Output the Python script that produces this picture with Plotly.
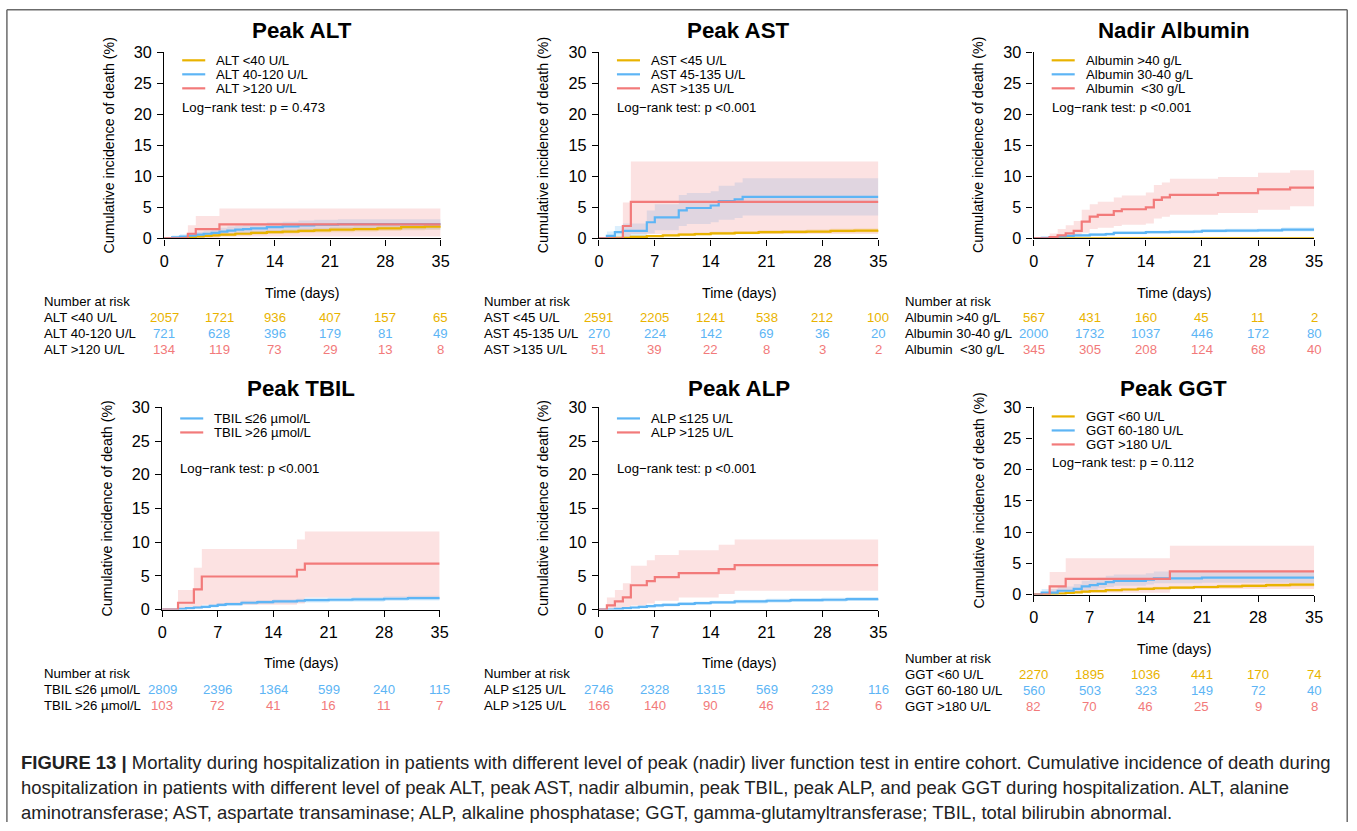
import plotly.graph_objects as go

W, H = 1357, 831
# the photographed page is shown slightly scaled/offset; positions below are in
# reference-image pixels and are mapped back to figure pixels
SX, OX = 0.988, 6.1
SY, OY = 0.978, 8.7
FS = 1.015  # font compensation for that scale

# ---------------- data ----------------
days = [0, 7, 14, 21, 28, 35]
yticks = [0, 5, 10, 15, 20, 25, 30]

titles = ["Peak ALT", "Peak AST", "Nadir Albumin", "Peak TBIL", "Peak ALP", "Peak GGT"]
pvals = ["Log\u2212rank test: p = 0.473", "Log\u2212rank test: p <0.001", "Log\u2212rank test: p <0.001",
         "Log\u2212rank test: p <0.001", "Log\u2212rank test: p <0.001", "Log\u2212rank test: p = 0.112"]

alt_groups = ["ALT <40 U/L", "ALT 40-120 U/L", "ALT >120 U/L"]
ast_groups = ["AST <45 U/L", "AST 45-135 U/L", "AST >135 U/L"]
alb_groups = ["Albumin >40 g/L", "Albumin 30-40 g/L", "Albumin  <30 g/L"]
tbil_groups = ["TBIL \u226426 \u00b5mol/L", "TBIL >26 \u00b5mol/L"]
alp_groups = ["ALP \u2264125 U/L", "ALP >125 U/L"]
ggt_groups = ["GGT <60 U/L", "GGT 60-180 U/L", "GGT >180 U/L"]

alt_risk = [[2057, 1721, 936, 407, 157, 65], [721, 628, 396, 179, 81, 49], [134, 119, 73, 29, 13, 8]]
ast_risk = [[2591, 2205, 1241, 538, 212, 100], [270, 224, 142, 69, 36, 20], [51, 39, 22, 8, 3, 2]]
alb_risk = [[567, 431, 160, 45, 11, 2], [2000, 1732, 1037, 446, 172, 80], [345, 305, 208, 124, 68, 40]]
tbil_risk = [[2809, 2396, 1364, 599, 240, 115], [103, 72, 41, 16, 11, 7]]
alp_risk = [[2746, 2328, 1315, 569, 239, 116], [166, 140, 90, 46, 12, 6]]
ggt_risk = [[2270, 1895, 1036, 441, 170, 74], [560, 503, 323, 149, 72, 40], [82, 70, 46, 25, 9, 8]]

# Peak ALT
alt1_t = [0, 1, 2, 3, 4, 5, 6, 7, 9, 11, 13, 15, 17, 19, 21, 24, 27, 30, 33, 35]
alt1_y = [0, 0.05, 0.1, 0.2, 0.3, 0.4, 0.5, 0.6, 0.75, 0.9, 1.0, 1.1, 1.2, 1.3, 1.4, 1.5, 1.6, 1.8, 1.9, 2.0]
alt1_lo = [0, 0, 0, 0.05, 0.1, 0.2, 0.25, 0.35, 0.45, 0.6, 0.7, 0.8, 0.85, 0.95, 1.0, 1.1, 1.2, 1.3, 1.4, 1.5]
alt1_hi = [0, 0.15, 0.25, 0.4, 0.5, 0.65, 0.75, 0.85, 1.05, 1.2, 1.35, 1.45, 1.55, 1.65, 1.8, 1.9, 2.05, 2.3, 2.4, 2.5]
alt2_t = [0, 1, 2, 3, 4, 5, 6, 7, 8, 9, 10, 11, 13, 15, 17, 19, 22, 35]
alt2_y = [0, 0.15, 0.3, 0.45, 0.6, 0.75, 0.9, 1.1, 1.25, 1.4, 1.5, 1.6, 1.8, 1.95, 2.1, 2.2, 2.3, 2.3]
alt2_lo = [0, 0, 0, 0.05, 0.15, 0.25, 0.35, 0.45, 0.6, 0.7, 0.8, 0.9, 1.05, 1.2, 1.3, 1.4, 1.45, 1.45]
alt2_hi = [0, 0.45, 0.65, 0.85, 1.05, 1.25, 1.45, 1.7, 1.9, 2.05, 2.2, 2.3, 2.55, 2.7, 2.9, 3.0, 3.1, 3.1]
alt3_t = [0, 3, 4, 7, 35]
alt3_y = [0, 0.75, 1.5, 2.25, 2.25]
alt3_lo = [0, 0, 0, 0.3, 0.3]
alt3_hi = [0, 2.1, 3.6, 4.8, 4.8]

# Peak AST
ast1_t = [0, 2, 4, 6, 8, 10, 12, 14, 17, 20, 23, 26, 29, 32, 35]
ast1_y = [0, 0.1, 0.25, 0.35, 0.5, 0.6, 0.7, 0.8, 0.9, 1.0, 1.05, 1.1, 1.2, 1.25, 1.3]
ast1_lo = [0, 0, 0.1, 0.2, 0.3, 0.4, 0.5, 0.55, 0.65, 0.75, 0.8, 0.85, 0.9, 0.95, 1.0]
ast1_hi = [0, 0.25, 0.45, 0.55, 0.7, 0.85, 0.95, 1.05, 1.2, 1.3, 1.35, 1.45, 1.55, 1.6, 1.7]
ast2_t = [0, 1, 2, 3, 6, 7, 10, 11, 14, 15, 17, 18, 35]
ast2_y = [0, 0.4, 1.0, 1.2, 2.6, 3.4, 4.5, 4.9, 5.3, 6.0, 6.3, 6.7, 6.7]
ast2_lo = [0, 0, 0.1, 0.2, 0.8, 1.3, 2.0, 2.3, 2.6, 3.0, 3.3, 3.7, 3.7]
ast2_hi = [0, 1.1, 2.0, 2.4, 4.5, 5.5, 7.0, 7.3, 7.6, 8.5, 9.0, 9.7, 9.7]
ast3_t = [0, 3, 4, 35]
ast3_y = [0, 2.0, 5.9, 5.9]
ast3_lo = [0, 0, 0.7, 0.7]
ast3_hi = [0, 5.8, 12.4, 12.4]

# Nadir Albumin
alb1_t = [0, 35]
alb1_y = [0, 0]
alb1_lo = [0, 0]
alb1_hi = [0, 0.05]
alb2_t = [0, 1, 2, 3, 4, 5, 7, 9, 10, 14, 17, 20, 21, 24, 28, 31, 35]
alb2_y = [0, 0.1, 0.2, 0.3, 0.4, 0.5, 0.6, 0.7, 0.9, 1.0, 1.05, 1.1, 1.2, 1.25, 1.3, 1.4, 1.4]
alb2_lo = [0, 0, 0.05, 0.1, 0.2, 0.3, 0.4, 0.5, 0.65, 0.75, 0.8, 0.85, 0.95, 1.0, 1.05, 1.1, 1.1]
alb2_hi = [0, 0.25, 0.4, 0.5, 0.6, 0.75, 0.85, 0.95, 1.15, 1.25, 1.3, 1.4, 1.5, 1.55, 1.6, 1.75, 1.75]
alb3_t = [0, 2, 3, 4, 5, 6, 7, 8, 10, 11, 14, 15, 16, 17, 23, 28, 32, 35]
alb3_y = [0, 0.2, 0.5, 0.8, 1.2, 2.7, 3.5, 3.8, 4.4, 4.7, 5.0, 6.2, 6.6, 7.0, 7.3, 7.9, 8.2, 8.2]
alb3_lo = [0, 0, 0, 0.1, 0.3, 0.9, 1.5, 1.7, 2.0, 2.2, 2.4, 3.2, 3.5, 3.8, 4.1, 4.6, 5.2, 5.2]
alb3_hi = [0, 0.8, 1.5, 2.1, 2.8, 4.6, 5.5, 5.9, 6.6, 6.9, 7.4, 8.6, 9.0, 9.6, 9.9, 10.6, 11.0, 11.0]

# Peak TBIL
tb1_t = [0, 2, 3, 4, 5, 6, 7, 8, 10, 12, 14, 17, 18, 21, 24, 28, 31, 35]
tb1_y = [0, 0.1, 0.2, 0.3, 0.4, 0.55, 0.7, 0.8, 1.0, 1.1, 1.2, 1.3, 1.4, 1.45, 1.5, 1.6, 1.7, 1.8]
tb1_lo = [0, 0, 0.05, 0.1, 0.2, 0.3, 0.45, 0.55, 0.7, 0.8, 0.9, 1.0, 1.05, 1.1, 1.15, 1.25, 1.35, 1.45]
tb1_hi = [0, 0.2, 0.35, 0.5, 0.6, 0.75, 0.95, 1.05, 1.3, 1.4, 1.5, 1.6, 1.75, 1.8, 1.85, 1.95, 2.05, 2.15]
tb2_t = [0, 2, 4, 5, 17, 18, 35]
tb2_y = [0, 1.0, 3.0, 4.9, 5.9, 6.8, 6.8]
tb2_lo = [0, 0, 0.2, 0.7, 0.9, 1.8, 1.8]
tb2_hi = [0, 2.9, 6.2, 9.0, 10.4, 11.6, 11.6]

# Peak ALP
alp1_t = [0, 2, 3, 4, 5, 6, 7, 8, 10, 12, 14, 17, 21, 24, 28, 31, 35]
alp1_y = [0, 0.1, 0.2, 0.3, 0.4, 0.5, 0.6, 0.7, 0.85, 0.95, 1.05, 1.2, 1.3, 1.4, 1.45, 1.55, 1.6]
alp1_lo = [0, 0, 0.05, 0.1, 0.2, 0.3, 0.35, 0.45, 0.6, 0.7, 0.8, 0.9, 1.0, 1.1, 1.15, 1.25, 1.3]
alp1_hi = [0, 0.2, 0.35, 0.45, 0.6, 0.7, 0.8, 0.95, 1.1, 1.2, 1.3, 1.45, 1.6, 1.7, 1.75, 1.85, 1.9]
alp2_t = [0, 1, 2, 3, 4, 6, 7, 10, 15, 17, 35]
alp2_y = [0, 0.6, 1.2, 1.8, 3.6, 4.2, 4.8, 5.4, 6.0, 6.6, 6.6]
alp2_lo = [0, 0, 0, 0.1, 0.6, 0.9, 1.3, 1.8, 2.3, 2.8, 2.8]
alp2_hi = [0, 1.8, 2.9, 3.9, 6.5, 7.3, 8.1, 8.8, 9.6, 10.4, 10.4]

# Peak GGT
ggt1_t = [0, 2, 3, 4, 5, 6, 7, 9, 11, 13, 15, 17, 20, 23, 26, 29, 32, 35]
ggt1_y = [0, 0.05, 0.15, 0.25, 0.35, 0.45, 0.55, 0.7, 0.8, 0.9, 1.0, 1.1, 1.2, 1.3, 1.4, 1.5, 1.6, 1.7]
ggt1_lo = [0, 0, 0.05, 0.1, 0.2, 0.3, 0.35, 0.5, 0.6, 0.7, 0.8, 0.85, 0.95, 1.05, 1.15, 1.2, 1.3, 1.4]
ggt1_hi = [0, 0.15, 0.3, 0.4, 0.5, 0.65, 0.75, 0.9, 1.0, 1.15, 1.25, 1.35, 1.45, 1.55, 1.7, 1.8, 1.9, 2.0]
ggt2_t = [0, 1, 3, 5, 6, 7, 8, 9, 10, 14, 15, 21, 35]
ggt2_y = [0, 0.3, 0.6, 0.9, 1.3, 1.5, 1.7, 2.0, 2.2, 2.4, 2.6, 2.7, 2.7]
ggt2_lo = [0, 0, 0.1, 0.3, 0.6, 0.8, 1.0, 1.2, 1.4, 1.6, 1.8, 1.9, 1.9]
ggt2_hi = [0, 0.9, 1.3, 1.7, 2.2, 2.4, 2.7, 3.0, 3.2, 3.4, 3.7, 3.8, 3.8]
ggt3_t = [0, 2, 4, 17, 35]
ggt3_y = [0, 1.3, 2.5, 3.7, 3.7]
ggt3_lo = [0, 0, 0.3, 0.9, 0.9]
ggt3_hi = [0, 3.6, 5.8, 7.8, 7.8]

caption_lines = [
    "<b>FIGURE 13 |</b> Mortality during hospitalization in patients with different level of peak (nadir) liver function test in entire cohort. Cumulative incidence of death during",
    "hospitalization in patients with different level of peak ALT, peak AST, nadir albumin, peak TBIL, peak ALP, and peak GGT during hospitalization. ALT, alanine",
    "aminotransferase; AST, aspartate transaminase; ALP, alkaline phosphatase; GGT, gamma-glutamyltransferase; TBIL, total bilirubin abnormal.",
]

# ---------------- styling ----------------
ORANGE, BLUE, RED = "#E9B300", "#5DB5F5", "#F27A7A"
BAND = {ORANGE: "rgba(233,179,0,0.22)", BLUE: "rgba(93,181,245,0.22)", RED: "rgba(242,122,122,0.22)"}
FONT = "Liberation Sans, Arial, sans-serif"

def fx(r):
    return (r - OX) / SX

def fy(r):
    return (r - OY) / SY

def px(r):
    return fx(r) / W

def py(r):
    return 1 - fy(r) / H

def fs(s):
    return round(s * FS, 2)

# axis boxes in reference pixels: (left, right, top, bottom)
boxes = [(165, 441, 52, 238), (599, 878, 52, 238), (1033, 1313, 52, 238),
         (163, 440, 407, 609), (599, 878, 407, 609), (1033, 1313, 407, 594)]

panels = [
    (alt_groups, [ORANGE, BLUE, RED], [(alt1_t, alt1_y, alt1_lo, alt1_hi), (alt2_t, alt2_y, alt2_lo, alt2_hi), (alt3_t, alt3_y, alt3_lo, alt3_hi)], alt_risk),
    (ast_groups, [ORANGE, BLUE, RED], [(ast1_t, ast1_y, ast1_lo, ast1_hi), (ast2_t, ast2_y, ast2_lo, ast2_hi), (ast3_t, ast3_y, ast3_lo, ast3_hi)], ast_risk),
    (alb_groups, [ORANGE, BLUE, RED], [(alb1_t, alb1_y, alb1_lo, alb1_hi), (alb2_t, alb2_y, alb2_lo, alb2_hi), (alb3_t, alb3_y, alb3_lo, alb3_hi)], alb_risk),
    (tbil_groups, [BLUE, RED], [(tb1_t, tb1_y, tb1_lo, tb1_hi), (tb2_t, tb2_y, tb2_lo, tb2_hi)], tbil_risk),
    (alp_groups, [BLUE, RED], [(alp1_t, alp1_y, alp1_lo, alp1_hi), (alp2_t, alp2_y, alp2_lo, alp2_hi)], alp_risk),
    (ggt_groups, [ORANGE, BLUE, RED], [(ggt1_t, ggt1_y, ggt1_lo, ggt1_hi), (ggt2_t, ggt2_y, ggt2_lo, ggt2_hi), (ggt3_t, ggt3_y, ggt3_lo, ggt3_hi)], ggt_risk),
]

legend_rows = [[60, 74, 88], [60, 74, 88], [60, 74, 88], [418, 432], [418, 432], [416, 430, 444]]
pval_y = [107, 107, 107, 468, 468, 462]
time_y = [293, 293, 293, 662, 662, 648]
nar_y = [301, 301, 301, 673, 673, 658]
risk_rows = [[317, 333, 349], [317, 333, 349], [317, 333, 349], [689, 705], [689, 705], [674, 690, 706]]
label_x = [43, 482, 903, 43, 482, 903]
title_y = [30, 30, 30, 388, 388, 388]

fig = go.Figure()
shapes = []
annotations = []
layout_axes = {}

for i, (box, (groups, colors, curves, risk)) in enumerate(zip(boxes, panels)):
    n = i + 1
    sfx = "" if n == 1 else str(n)
    xa, ya = "x" + sfx, "y" + sfx
    L, R, T, B = box
    for (t, y, lo, hi), c in zip(curves, colors):
        fig.add_trace(go.Scatter(x=t, y=lo, xaxis=xa, yaxis=ya, mode="lines",
                                 line=dict(width=0, shape="hv", color=BAND[c]),
                                 hoverinfo="skip", showlegend=False, cliponaxis=False))
        fig.add_trace(go.Scatter(x=t, y=hi, xaxis=xa, yaxis=ya, mode="lines",
                                 line=dict(width=0, shape="hv", color=BAND[c]),
                                 fill="tonexty", fillcolor=BAND[c],
                                 hoverinfo="skip", showlegend=False, cliponaxis=False))
    for (t, y, lo, hi), c, g in zip(curves, colors, groups):
        fig.add_trace(go.Scatter(x=t, y=y, xaxis=xa, yaxis=ya, mode="lines", name=g,
                                 line=dict(width=2.2, shape="hv", color=c),
                                 showlegend=False, cliponaxis=False))
    layout_axes["xaxis" + sfx] = dict(
        domain=[px(L), px(R)], anchor=ya, range=[0, 35], tickvals=days,
        showgrid=False, zeroline=False, showline=True, linecolor="black", linewidth=1.3,
        ticks="outside", ticklen=6, tickwidth=1.3, tickcolor="black",
        tickfont=dict(family=FONT, size=fs(16), color="black"), ticklabelstandoff=2)
    layout_axes["yaxis" + sfx] = dict(
        domain=[py(B), py(T)], anchor=xa, range=[0, 30], tickvals=yticks,
        showgrid=False, zeroline=False, showline=True, linecolor="black", linewidth=1.3,
        ticks="outside", ticklen=6, tickwidth=1.3, tickcolor="black",
        tickfont=dict(family=FONT, size=fs(16), color="black"), ticklabelstandoff=2)

    cx = (L + R) / 2
    annotations.append(dict(text="<b>" + titles[i] + "</b>", x=px(cx), y=py(title_y[i]),
                            xref="paper", yref="paper", showarrow=False,
                            font=dict(family=FONT, size=fs(22), color="black"),
                            xanchor="center", yanchor="middle"))
    annotations.append(dict(text="Cumulative incidence of death (%)", x=px(L - 55), y=py((T + B) / 2),
                            xref="paper", yref="paper", showarrow=False, textangle=-90,
                            font=dict(family=FONT, size=fs(14), color="black"),
                            xanchor="center", yanchor="middle"))
    for g, c, ry in zip(groups, colors, legend_rows[i]):
        shapes.append(dict(type="line", xref="paper", yref="paper",
                           x0=px(L + 18), x1=px(L + 41), y0=py(ry), y1=py(ry),
                           line=dict(color=c, width=2.2)))
        annotations.append(dict(text=g, x=px(L + 50), y=py(ry), xref="paper", yref="paper",
                                showarrow=False, xanchor="left", yanchor="middle",
                                font=dict(family=FONT, size=fs(13), color="black")))
    annotations.append(dict(text=pvals[i], x=px(L + 16), y=py(pval_y[i]), xref="paper", yref="paper",
                            showarrow=False, xanchor="left", yanchor="middle",
                            font=dict(family=FONT, size=fs(13), color="black")))
    annotations.append(dict(text="Time (days)", x=px(cx), y=py(time_y[i]), xref="paper", yref="paper",
                            showarrow=False, xanchor="center", yanchor="middle",
                            font=dict(family=FONT, size=fs(14), color="black")))
    annotations.append(dict(text="Number at risk", x=px(label_x[i]), y=py(nar_y[i]), xref="paper", yref="paper",
                            showarrow=False, xanchor="left", yanchor="middle",
                            font=dict(family=FONT, size=fs(13), color="black")))
    for g, c, ry, row in zip(groups, colors, risk_rows[i], risk):
        annotations.append(dict(text=g, x=px(label_x[i]), y=py(ry), xref="paper", yref="paper",
                                showarrow=False, xanchor="left", yanchor="middle",
                                font=dict(family=FONT, size=fs(13), color="black")))
        for d, v in zip(days, row):
            annotations.append(dict(text=str(v), x=d, y=py(ry), xref=xa, yref="paper",
                                    showarrow=False, xanchor="center", yanchor="middle",
                                    font=dict(family=FONT, size=fs(13), color=c)))

for k, line in enumerate(caption_lines):
    annotations.append(dict(text=line, x=px(20), y=py(762 + 25 * k), xref="paper", yref="paper",
                            showarrow=False, xanchor="left", yanchor="middle",
                            font=dict(family="Liberation Sans, Arial", size=fs(18.2), color="#222")))

# frame (clamped to the figure area)
frame_col = "#6b6b6b"
top_y = 1 - 0.8 / H
left_x = max(px(8), 0.8 / W)
right_x = min(px(1354), 1 - 0.8 / W)
shapes += [
    dict(type="line", xref="paper", yref="paper", x0=left_x, x1=right_x, y0=top_y, y1=top_y, line=dict(color=frame_col, width=1.5)),
    dict(type="line", xref="paper", yref="paper", x0=left_x, x1=left_x, y0=top_y, y1=0, line=dict(color=frame_col, width=1.5)),
    dict(type="line", xref="paper", yref="paper", x0=right_x, x1=right_x, y0=top_y, y1=0, line=dict(color=frame_col, width=1.5)),
]

fig.update_layout(width=W, height=H, margin=dict(l=0, r=0, t=0, b=0),
                  paper_bgcolor="white", plot_bgcolor="white", showlegend=False,
                  shapes=shapes, annotations=annotations, **layout_axes)

fig.write_html("out.html", config={"displayModeBar": False},
               post_script="document.body.style.margin='0';document.body.style.padding='0';document.body.style.overflow='hidden';")
